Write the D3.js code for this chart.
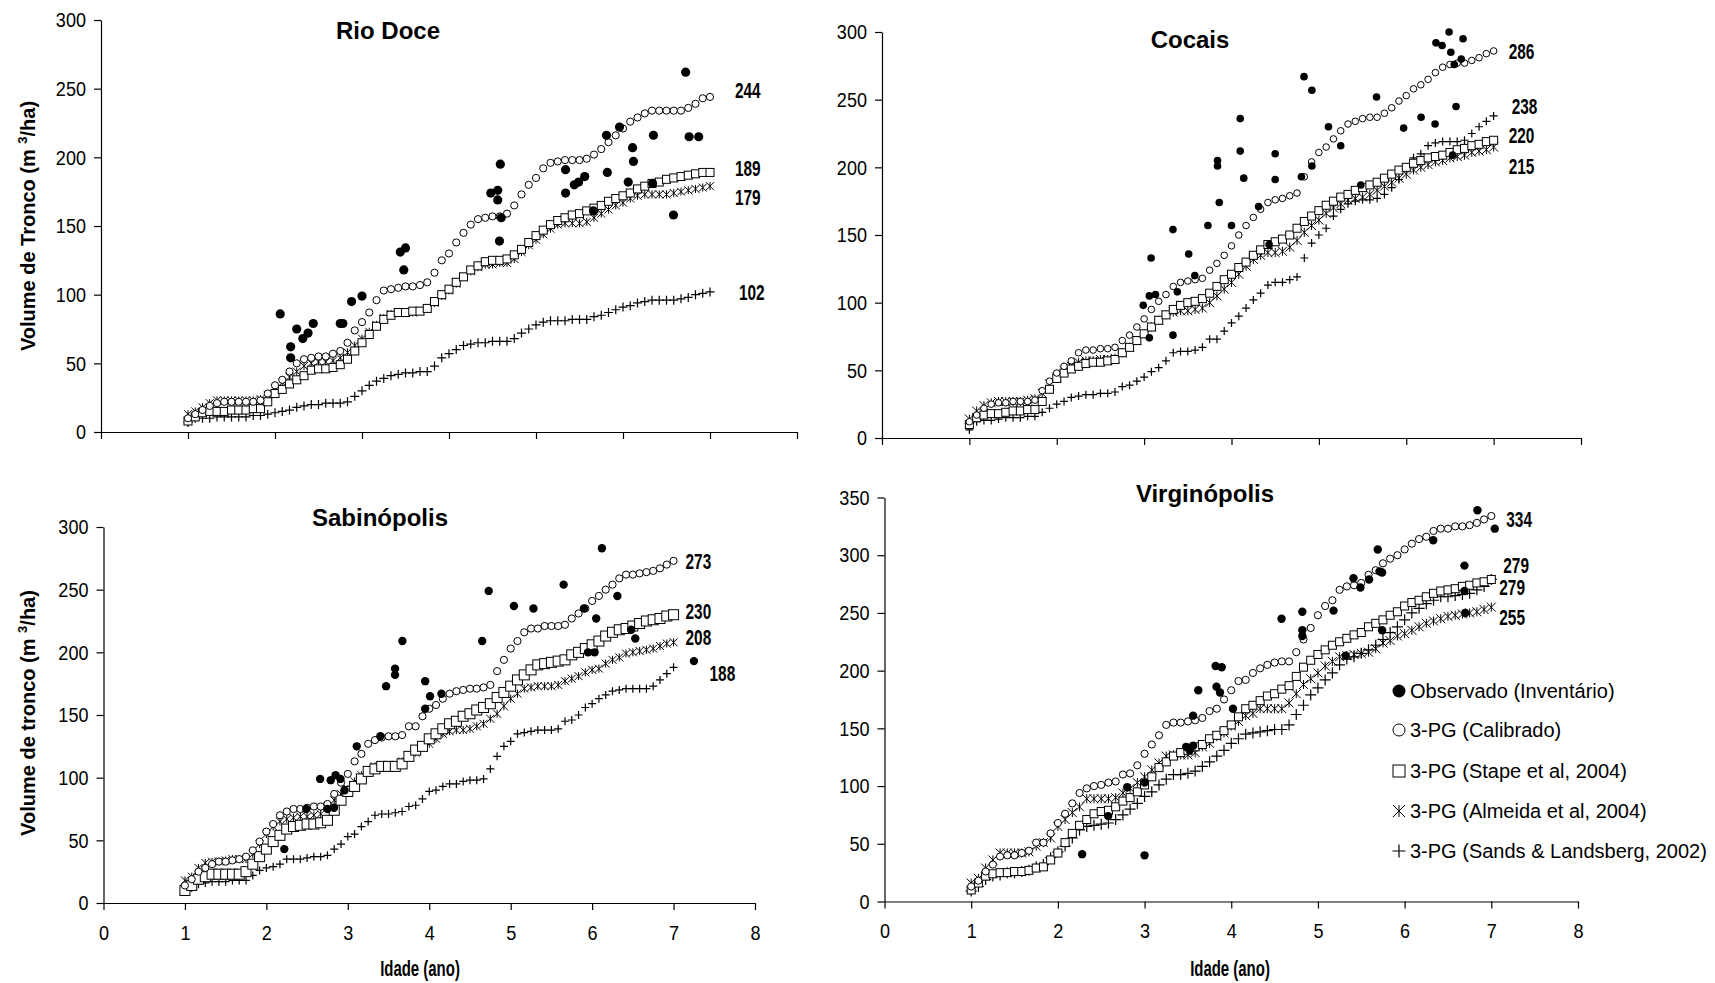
<!DOCTYPE html>
<html>
<head>
<meta charset="utf-8">
<script src="https://cdn.jsdelivr.net/npm/d3@7"></script>
<style>
  html, body { margin: 0; padding: 0; background: #fff; }
  svg { display: block; font-family: "Liberation Sans", Arial, Helvetica, sans-serif; }
</style>
</head>
<body>
<svg id="chart" width="1715" height="983"></svg>
<script>
// ---------------------------------------------------------------
// Stem volume (m3/ha) by stand age, monthly 3-PG runs from 12 to 84 months
// ---------------------------------------------------------------
const months = [12,13,14,15,16,17,18,19,20,21,22,23,24,25,26,27,28,29,30,31,32,33,34,35,36,37,38,39,40,41,42,43,44,45,46,47,48,49,50,51,52,53,54,55,56,57,58,59,60,61,62,63,64,65,66,67,68,69,70,71,72,73,74,75,76,77,78,79,80,81,82,83,84];

const xTicks = [0, 1, 2, 3, 4, 5, 6, 7, 8];
const yTicks300 = [0, 50, 100, 150, 200, 250, 300];
const yTicks350 = [0, 50, 100, 150, 200, 250, 300, 350];

const panelTitles = ["Rio Doce", "Cocais", "Sabinópolis", "Virginópolis"];
const legendLabels = [
  "Observado (Inventário)",
  "3-PG (Calibrado)",
  "3-PG (Stape et al, 2004)",
  "3-PG (Almeida et al, 2004)",
  "3-PG (Sands & Landsberg, 2002)"
];

// Rio Doce
const rioCal = [10,13,16,19,21,22,22,22,22,22, 23,28,34,38,44,50,53,54,55,55, 57,59,65,74,80,87,96,103,104,105, 106,106,107,109,116,125,130,138,145,151, 155,156,157,157,159,165,173,180,185,192, 196,197,198,198,198,199,202,206,211,216, 221,226,229,232,234,234,234,234,234,236, 239,243,244];
const rioStape = [8,11,14,15,15,15,16,16,16,17, 17,22,28,31,35,38,41,45,46,46, 47,49,53,59,65,71,77,82,85,87, 87,88,88,90,95,100,104,109,113,118, 121,124,125,125,126,129,133,138,143,147, 151,154,156,158,159,161,163,165,168,170, 172,174,177,179,181,182,184,185,186,187, 188,189,189];
const rioAlmeida = [13,15,18,21,23,23,23,23,23,23, 24,27,32,36,40,44,48,50,51,51, 52,54,58,63,68,73,78,83,86,87, 87,87,88,90,94,99,103,108,113,117, 120,122,122,123,123,126,131,136,140,144, 148,151,152,152,152,153,156,159,162,165, 167,170,172,173,173,173,173,174,175,176, 177,178,179];
const rioSands = [7,10,10,10,11,11,11,11,11,12, 12,13,14,15,16,18,19,20,20,21, 21,21,22,26,30,34,37,39,41,42, 43,43,44,44,48,54,57,60,63,64, 65,65,66,66,66,68,72,75,78,80, 81,81,81,82,82,82,84,85,87,89, 91,92,94,95,96,96,96,96,97,98, 100,101,102];
const rioObsAge = [2.06,2.18,2.18,2.25,2.32,2.38,2.44,2.75,2.78,2.88,3.0,3.44,3.5,3.48,4.48,4.56,4.56,4.59,4.6,4.58,5.34,5.34,5.44,5.49,5.56,5.66,5.81,5.82,5.96,6.06,6.11,6.12,6.35,6.34,6.58,6.72,6.76,6.87];
const rioObsVol = [86,62,54,75,68,72,79,79,79,95,99,131,134,118,174,176,169,195,156,139,191,174,180,182,186,161,216,189,222,182,207,197,216,181,158,262,215,215];

// Cocais
const cocCal = [12,17,22,25,26,26,27,27,27,28, 35,42,48,53,57,63,65,65,66,66, 67,72,76,82,88,95,101,106,112,115, 116,117,118,124,129,135,142,150,157,163, 169,174,176,177,179,181,193,204,211,215, 221,227,232,234,236,237,237,240,244,249, 253,258,261,265,270,274,276,277,277,279, 281,284,286];
const cocStape = [10,15,17,18,18,19,20,20,21,21, 27,36,44,48,51,53,55,56,56,57, 58,63,67,72,77,82,87,91,95,98, 100,101,103,107,112,117,121,126,130,135, 139,143,145,147,150,155,160,164,168,172, 175,178,180,183,185,187,189,192,195,198, 200,203,205,207,208,209,211,213,214,216, 217,219,220];
const cocAlmeida = [14,20,24,26,27,27,27,27,28,29, 33,40,45,50,53,56,57,57,58,58, 59,63,67,72,77,82,87,91,93,94, 94,95,96,100,105,110,115,121,127,132, 135,137,137,138,141,146,152,157,161,166, 170,173,176,177,178,180,183,186,189,192, 195,198,200,202,204,205,207,208,209,211, 212,213,215];
const cocSands = [6,12,13,13,14,15,15,15,16,16, 19,22,25,27,30,31,32,32,33,33, 34,38,39,42,45,49,52,57,63,64, 64,65,67,73,73,79,85,90,96,102, 107,113,115,115,117,119,133,144,150,155, 164,169,173,175,176,176,177,180,185,191, 200,207,210,216,218,219,219,219,220,225, 230,234,238];
const cocObsAge = [3.08,3.06,3.13,2.99,3.06,3.33,3.33,3.38,3.51,3.58,3.73,3.84,3.84,3.86,4.0,4.1,4.1,4.14,4.31,4.43,4.5,4.5,4.8,4.83,4.92,4.92,5.11,5.25,5.48,5.66,5.97,6.17,6.33,6.34,6.41,6.49,6.51,6.55,6.57,6.63,6.65,6.53];
const cocObsVol = [133,105,106,98,74,154,76,108,136,120,157,205,201,174,157,236,212,192,171,143,210,191,193,267,257,201,230,216,187,252,229,237,232,292,290,300,285,276,245,280,295,209];

// Sabinópolis
const sabCal = [14,19,25,28,31,33,33,34,35,37, 42,49,57,63,70,73,75,75,76,77, 77,79,87,96,103,113,119,127,130,132, 133,133,134,141,141,149,155,158,163,167, 169,170,171,171,172,174,185,194,203,209, 216,219,219,221,221,221,222,227,231,235, 241,245,250,254,259,262,262,263,264,265, 267,270,273];
const sabStape = [10,14,19,21,23,23,23,23,23,25, 31,37,43,49,54,59,61,62,63,63, 64,66,74,82,89,93,99,105,107,109, 109,109,111,117,122,125,131,135,139,143, 145,149,151,154,156,159,164,168,173,178, 182,186,190,191,192,193,194,198,200,203, 206,209,213,216,218,219,221,223,225,226, 227,229,230];
const sabAlmeida = [18,21,28,32,33,33,34,35,35,35, 39,47,55,61,65,67,68,69,69,70, 71,77,82,87,91,97,102,106,109,109, 109,110,113,117,120,124,127,131,135,137, 138,138,139,141,143,147,151,157,163,167, 171,172,173,173,173,174,177,179,181,184, 186,187,191,194,196,199,200,201,202,203, 205,207,208];
const sabSands = [10,12,15,16,17,17,17,18,18,18, 22,26,28,29,31,35,35,35,36,37, 37,38,43,47,53,55,61,65,70,71, 71,72,73,77,78,83,89,90,93,95, 95,97,98,98,99,107,117,125,129,135, 136,137,138,138,138,139,145,146,150,156, 159,163,166,169,170,171,171,171,171,173, 178,183,188];
const sabObsAge = [2.22,2.49,2.66,2.79,2.85,2.91,2.96,2.75,2.83,3.11,3.40,3.47,3.58,3.58,3.67,3.95,3.95,4.01,4.15,4.65,4.73,5.04,5.28,5.65,5.9,5.95,6.03,6.05,6.12,6.31,6.48,6.53,7.25];
const sabObsVol = [43,75,99,98,102,99,90,75,76,125,133,173,187,182,209,177,155,165,167,209,249,237,235,254,235,200,200,227,283,245,218,211,193];

// Virginópolis
const virCal = [13,18,26,32,39,40,40,42,44,51, 51,59,68,76,85,94,98,100,101,103, 104,110,111,118,128,136,144,153,155,155, 156,157,159,165,167,175,183,191,192,198, 202,205,207,208,208,216,227,237,248,256, 261,270,273,274,276,283,287,293,297,300, 305,310,314,316,321,323,323,325,325,326, 328,331,334];
const virStape = [10,16,22,24,25,25,26,26,27,29, 30,36,42,51,59,66,71,76,78,79, 82,87,90,95,101,108,116,121,126,129, 131,134,136,141,144,148,153,160,167,170, 174,178,180,184,187,195,203,209,214,218, 222,225,228,231,233,238,241,244,248,251, 256,259,261,264,267,269,270,271,273,274, 276,277,279];
const virAlmeida = [16,20,29,36,42,42,42,42,43,48, 51,55,65,71,77,82,89,89,89,89, 90,94,98,103,108,114,120,126,127,127, 127,129,134,137,143,146,152,156,161,163, 167,167,167,167,172,180,188,193,198,204, 208,212,213,214,215,216,219,224,226,230, 232,235,238,241,243,245,247,248,249,250, 251,253,255];
const virSands = [9,13,19,22,23,25,25,26,27,30, 32,38,43,48,55,62,65,66,67,68, 71,75,80,85,91,95,101,106,110,110, 111,113,117,121,126,131,137,141,145,146, 147,148,149,149,153,162,170,179,185,192, 198,205,210,212,215,218,222,227,233,238, 244,250,254,258,261,264,264,265,266,267, 270,273,279];
const virObsAge = [2.28,2.58,2.80,3.0,3.0,3.48,3.52,3.56,3.56,3.62,3.82,3.89,3.83,3.87,4.02,4.58,4.82,4.82,4.82,5.18,5.32,5.41,5.49,5.59,5.69,5.71,5.74,5.74,6.33,6.69,6.69,6.70,6.84,7.04];
const virObsVol = [41,74,99,103,40,134,131,135,161,183,204,203,186,181,167,245,251,235,230,252,213,280,272,279,305,286,285,235,313,291,269,250,339,323];

// ---------------------------------------------------------------
// Layout of the four panels
// ---------------------------------------------------------------
const ages = months.map(m => m / 12);

const panels = [
  { title: panelTitles[0], box: { x0: 101, x1: 797, y0: 432, y1: 20 }, yMax: 300, yTicks: yTicks300,
    titlePos: [388, 39], xLabels: false, yTitle: "Volume de Tronco", yTitleY: 226,
    cal: rioCal, stape: rioStape, almeida: rioAlmeida, sands: rioSands, obsAge: rioObsAge, obsVol: rioObsVol,
    sizes: { obs: 4.6, cal: 3.6, stape: 8, almeida: 8, sands: 9 },
    labels: [ { s: "cal", dx: 25, dy: -7 }, { s: "stape", dx: 25, dy: -4 }, { s: "almeida", dx: 25, dy: 11 }, { s: "sands", dx: 29, dy: 0 } ] },
  { title: panelTitles[1], box: { x0: 882, x1: 1581, y0: 438, y1: 32 }, yMax: 300, yTicks: yTicks300,
    titlePos: [1190, 48], xLabels: false, yTitle: null,
    cal: cocCal, stape: cocStape, almeida: cocAlmeida, sands: cocSands, obsAge: cocObsAge, obsVol: cocObsVol,
    sizes: { obs: 3.8, cal: 3.3, stape: 8, almeida: 9, sands: 8 },
    labels: [ { s: "cal", dx: 15, dy: 0 }, { s: "sands", dx: 18, dy: -10 }, { s: "stape", dx: 15, dy: -5 }, { s: "almeida", dx: 15, dy: 19 } ] },
  { title: panelTitles[2], box: { x0: 103.5, x1: 755, y0: 903, y1: 527 }, yMax: 300, yTicks: yTicks300,
    titlePos: [380, 526], xLabels: true, xTitleX: 420, yTitle: "Volume de tronco", yTitleY: 713,
    cal: sabCal, stape: sabStape, almeida: sabAlmeida, sands: sabSands, obsAge: sabObsAge, obsVol: sabObsVol,
    sizes: { obs: 4.2, cal: 3.6, stape: 10, almeida: 8, sands: 8 },
    labels: [ { s: "cal", dx: 12, dy: 0 }, { s: "stape", dx: 12, dy: -4 }, { s: "almeida", dx: 12, dy: -5 }, { s: "sands", dx: 36, dy: 6 } ] },
  { title: panelTitles[3], box: { x0: 884.5, x1: 1578, y0: 901.5, y1: 497.5 }, yMax: 350, yTicks: yTicks350,
    titlePos: [1205, 502], xLabels: true, xTitleX: 1230, yTitle: null,
    cal: virCal, stape: virStape, almeida: virAlmeida, sands: virSands, obsAge: virObsAge, obsVol: virObsVol,
    sizes: { obs: 4.2, cal: 3.6, stape: 8, almeida: 9, sands: 11 },
    labels: [ { s: "cal", dx: 15, dy: 3 }, { s: "stape", dx: 12, dy: -14 }, { s: "sands", dx: 8, dy: 8 }, { s: "almeida", dx: 8, dy: 10 } ],
    legend: true }
];

// horizontal squeeze applied to the condensed lettering (ticks, end values, axis title)
const TICK_SQUEEZE = 0.86;
const VALUE_SQUEEZE = 0.7;

const svg = d3.select("#chart");

// Marker painters: each draws one symbol centred on the group origin
function drawMarker(sel, kind, size) {
  const h = size / 2;
  if (kind === "obs") {
    sel.append("circle").attr("r", size).attr("fill", "#000");
  } else if (kind === "cal") {
    sel.append("circle").attr("r", size).attr("fill", "#fff").attr("stroke", "#000").attr("stroke-width", 1);
  } else if (kind === "stape") {
    sel.append("rect").attr("x", -h).attr("y", -h).attr("width", size).attr("height", size)
      .attr("fill", "#fff").attr("stroke", "#000").attr("stroke-width", 1);
  } else if (kind === "almeida") {
    sel.append("path")
      .attr("d", `M${-h},${-h}L${h},${h}M${-h},${h}L${h},${-h}M0,${-h}L0,${h}`)
      .attr("stroke", "#000").attr("stroke-width", 1).attr("fill", "none");
  } else if (kind === "sands") {
    sel.append("path")
      .attr("d", `M${-h},0L${h},0M0,${-h}L0,${h}`)
      .attr("stroke", "#000").attr("stroke-width", 1.2).attr("fill", "none");
  }
}

// condensed text placed at (px, py)
function squeezedText(parent, px, py, str, size, squeeze, anchor, bold) {
  return parent.append("text")
    .attr("transform", `translate(${px},${py}) scale(${squeeze},1)`)
    .attr("text-anchor", anchor)
    .attr("font-weight", bold ? "bold" : "normal")
    .attr("font-size", size)
    .text(str);
}

panels.forEach(p => {
  const x = d3.scaleLinear().domain([0, 8]).range([p.box.x0, p.box.x1]);
  const y = d3.scaleLinear().domain([0, p.yMax]).range([p.box.y0, p.box.y1]);
  const g = svg.append("g");

  // y axis
  const yPad = 8, tick = 7;
  const yAxis = g.append("g")
    .attr("transform", `translate(${p.box.x0},0)`)
    .call(d3.axisLeft(y).tickValues(p.yTicks).tickSize(tick).tickSizeOuter(0).tickPadding(yPad));
  yAxis.attr("font-family", null).attr("font-size", null);
  yAxis.selectAll("text")
    .attr("font-size", 21).attr("fill", "#000")
    .attr("x", -(tick + yPad) / TICK_SQUEEZE)
    .attr("transform", `scale(${TICK_SQUEEZE},1)`);

  // x axis
  const xAxis = g.append("g")
    .attr("transform", `translate(0,${p.box.y0})`)
    .call(d3.axisBottom(x).tickValues(xTicks).tickSize(tick).tickSizeOuter(0).tickPadding(15)
      .tickFormat(p.xLabels ? d3.format("d") : () => ""));
  xAxis.attr("font-family", null).attr("font-size", null);
  xAxis.selectAll("text")
    .attr("font-size", 21).attr("fill", "#000")
    .attr("transform", `scale(${TICK_SQUEEZE},1)`);

  g.selectAll(".domain, .tick line").attr("stroke", "#000").attr("stroke-width", 1.2);

  // panel title
  g.append("text")
    .attr("x", p.titlePos[0]).attr("y", p.titlePos[1])
    .attr("text-anchor", "middle").attr("font-weight", "bold").attr("font-size", 24)
    .text(p.title);

  // y axis title
  if (p.yTitle) {
    const t = g.append("text")
      .attr("transform", `translate(35,${p.yTitleY}) rotate(-90)`)
      .attr("text-anchor", "middle").attr("font-weight", "bold").attr("font-size", 20);
    t.append("tspan").text(p.yTitle + " (m ");
    t.append("tspan").attr("font-size", 13).attr("dy", -8).text("3");
    t.append("tspan").attr("dy", 8).text("/ha)");
  }

  // x axis title
  if (p.xLabels) {
    squeezedText(g, p.xTitleX, 976, "Idade (ano)", 22, 0.68, "middle", true);
  }

  // model series (monthly) then observed plots
  const order = [["sands", p.sands], ["almeida", p.almeida], ["stape", p.stape], ["cal", p.cal]];
  order.forEach(([kind, vals]) => {
    g.append("g").selectAll("g")
      .data(vals.map((v, i) => [ages[i], v]))
      .join("g")
      .attr("transform", d => `translate(${x(d[0])},${y(d[1])})`)
      .each(function () { drawMarker(d3.select(this), kind, p.sizes[kind]); });
  });
  g.append("g").selectAll("g")
    .data(p.obsAge.map((a, i) => [a, p.obsVol[i]]))
    .join("g")
    .attr("transform", d => `translate(${x(d[0])},${y(d[1])})`)
    .each(function () { drawMarker(d3.select(this), "obs", p.sizes.obs); });

  // end-of-rotation volume labels
  p.labels.forEach(l => {
    const vals = p[l.s];
    const last = vals[vals.length - 1];
    squeezedText(g, x(ages[vals.length - 1]) + l.dx, y(last) + l.dy + 8, last, 22, VALUE_SQUEEZE, "start", true);
  });

  // legend
  if (p.legend) {
    const kinds = ["obs", "cal", "stape", "almeida", "sands"];
    const legendSizes = { obs: 6.5, cal: 6, stape: 12, almeida: 12, sands: 13 };
    const rowY = [691, 730, 771, 811, 851];
    const lg = g.append("g");
    kinds.forEach((k, i) => {
      const row = lg.append("g").attr("transform", `translate(1399,${rowY[i]})`);
      drawMarker(row, k, legendSizes[k]);
      row.append("text").attr("x", 11).attr("y", 7).attr("font-size", 20).text(legendLabels[i]);
    });
  }
});
</script>
</body>
</html>
